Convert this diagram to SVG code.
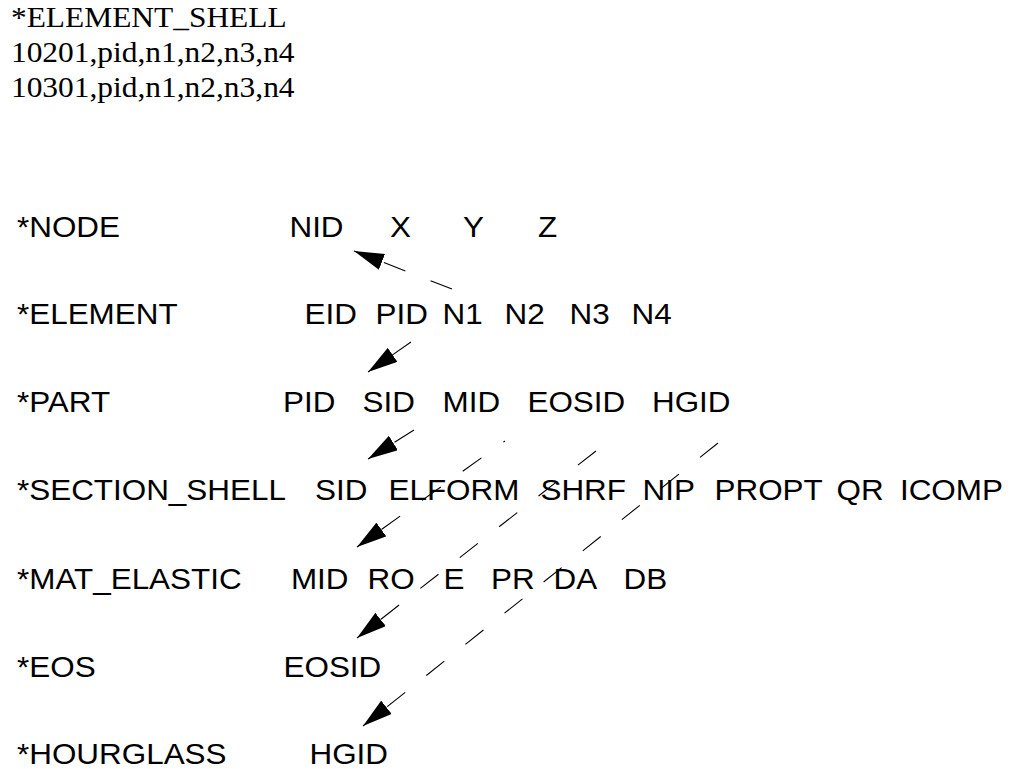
<svg xmlns="http://www.w3.org/2000/svg" width="1021" height="769" viewBox="0 0 1021 769">
<style>
.sr{font-family:"Liberation Serif","Times New Roman",serif;font-size:29.5px;fill:#000}
.ss{font-family:"Liberation Sans",Arial,sans-serif;font-size:29.5px;fill:#000}
.ln{stroke:#000;stroke-width:1.1;fill:none;stroke-dasharray:23 27;marker-end:url(#ah)}
</style>
<defs>
<marker id="ah" markerUnits="userSpaceOnUse" viewBox="0 -8.5 30 17" refX="30" refY="0" markerWidth="30" markerHeight="17" orient="auto">
<path d="M0,-8.5 L30,0 L0,8.5 Z" fill="#000"/>
</marker>
</defs>
<rect width="1021" height="769" fill="#fff"/>
<g id="header" transform="scale(1.065 1)">
<text class="sr" x="10.3" y="27">*ELEMENT_SHELL</text>
<text class="sr" x="10.3" y="62">10201,pid,n1,n2,n3,n4</text>
<text class="sr" x="10.3" y="97">10301,pid,n1,n2,n3,n4</text>
</g>
<g id="node" transform="scale(1.065 1)">
<text class="ss" x="16" y="237">*NODE</text>
<text class="ss" x="271.8" y="237">NID</text>
<text class="ss" x="366.2" y="237">X</text>
<text class="ss" x="434.7" y="237">Y</text>
<text class="ss" x="505.2" y="237">Z</text>
</g>
<g id="element" transform="scale(1.065 1)">
<text class="ss" x="16" y="324">*ELEMENT</text>
<text class="ss" x="285.9" y="324">EID</text>
<text class="ss" x="352.6" y="324">PID</text>
<text class="ss" x="415.5" y="324">N1</text>
<text class="ss" x="473.7" y="324">N2</text>
<text class="ss" x="534.7" y="324">N3</text>
<text class="ss" x="593" y="324">N4</text>
</g>
<g id="part" transform="scale(1.065 1)">
<text class="ss" x="16" y="412">*PART</text>
<text class="ss" x="265.7" y="412">PID</text>
<text class="ss" x="340.4" y="412">SID</text>
<text class="ss" x="415.5" y="412">MID</text>
<text class="ss" x="495.3" y="412">EOSID</text>
<text class="ss" x="612.2" y="412">HGID</text>
</g>
<g id="section_shell" transform="scale(1.065 1)">
<text class="ss" x="16" y="500">*SECTION_SHELL</text>
<text class="ss" x="295.8" y="500">SID</text>
<text class="ss" x="364.8" y="500">ELFORM</text>
<text class="ss" x="507.5" y="500">SHRF</text>
<text class="ss" x="603.3" y="500">NIP</text>
<text class="ss" x="670.9" y="500">PROPT</text>
<text class="ss" x="785.5" y="500">QR</text>
<text class="ss" x="845" y="500">ICOMP</text>
</g>
<g id="mat_elastic" transform="scale(1.065 1)">
<text class="ss" x="16" y="589">*MAT_ELASTIC</text>
<text class="ss" x="273.2" y="589">MID</text>
<text class="ss" x="345.1" y="589">RO</text>
<text class="ss" x="416.4" y="589">E</text>
<text class="ss" x="461" y="589">PR</text>
<text class="ss" x="519.7" y="589">DA</text>
<text class="ss" x="585.4" y="589">DB</text>
</g>
<g id="eos" transform="scale(1.065 1)">
<text class="ss" x="16" y="677">*EOS</text>
<text class="ss" x="266.2" y="677">EOSID</text>
</g>
<g id="hourglass" transform="scale(1.065 1)">
<text class="ss" x="16" y="764">*HOURGLASS</text>
<text class="ss" x="290.6" y="764">HGID</text>
</g>
<g id="connectors">
<line class="ln" x1="452" y1="289" x2="354" y2="251"/>
<line class="ln" x1="411" y1="342" x2="368" y2="372"/>
<line class="ln" x1="414" y1="430" x2="368" y2="459"/>
<line class="ln" x1="505" y1="441" x2="357" y2="547" stroke-dashoffset="21"/>
<line class="ln" x1="596" y1="451" x2="357" y2="638"/>
<line class="ln" x1="718" y1="443" x2="363" y2="726"/>
</g>
</svg>
